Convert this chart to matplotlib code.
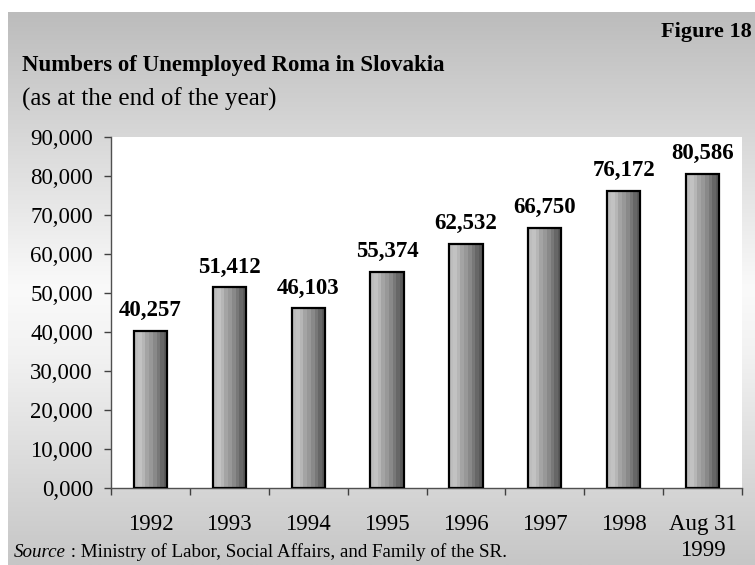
import numpy as np
import matplotlib
matplotlib.use("Agg")
import matplotlib.pyplot as plt
from matplotlib.colors import LinearSegmentedColormap

categories = ["1992", "1993", "1994", "1995", "1996", "1997", "1998", "Aug 31\n1999"]
values = [40257, 51412, 46103, 55374, 62532, 66750, 76172, 80586]
value_labels = ["40,257", "51,412", "46,103", "55,374", "62,532", "66,750", "76,172", "80,586"]
yticks = [0, 10000, 20000, 30000, 40000, 50000, 60000, 70000, 80000, 90000]
ytick_labels = ["0,000", "10,000", "20,000", "30,000", "40,000", "50,000",
                "60,000", "70,000", "80,000", "90,000"]

plt.rcParams['font.family'] = ['Liberation Serif', 'DejaVu Serif']

W, H = 755, 565
fig = plt.figure(figsize=(W / 100, H / 100), dpi=100)
fig.patch.set_facecolor("white")

# background gradient panel
bg = fig.add_axes([8 / W, 0, (W - 8) / W, (H - 12) / H], zorder=-5)
bg.set_axis_off()
bg_cmap = LinearSegmentedColormap.from_list(
    "bg", [(0.0, "#bcbcbc"), (0.5, "#fafafa"), (0.62, "#f2f2f2"), (1.0, "#c6c6c6")])
grad = np.linspace(0, 1, 256).reshape(-1, 1)
bg.imshow(grad, aspect="auto", cmap=bg_cmap, extent=[0, 1, 0, 1], origin="upper")
bg.set_xlim(0, 1)
bg.set_ylim(0, 1)

# main plot
L, R, T, B = 111, 742, 137, 488
ax = fig.add_axes([L / W, (H - B) / H, (R - L) / W, (B - T) / H])
ax.set_facecolor("white")
x = np.arange(len(categories))
bars = ax.bar(x, values, width=0.42, facecolor="none", edgecolor="black",
              linewidth=1.6, zorder=3)

bar_cmap = LinearSegmentedColormap.from_list(
    "bar", ["#bdbdbd", "#c4c4c4", "#a9a9a9", "#999999", "#858585", "#6c6c6c", "#5a5a5a"])
steps = np.linspace(0, 1, 9).reshape(1, -1)
for b in bars:
    x0, y0 = b.get_x(), b.get_y()
    im = ax.imshow(steps, aspect="auto", cmap=bar_cmap, interpolation="nearest",
                   extent=[x0, x0 + b.get_width(), y0, y0 + b.get_height()], zorder=2)
    im.set_clip_path(b)

for xi, v, lab in zip(x, values, value_labels):
    ax.annotate(lab, xy=(xi, v), xytext=(0, 7), textcoords="offset points",
                ha="center", va="bottom", fontsize=16.5, fontweight="bold")

ax.set_xlim(-0.5, len(categories) - 0.5)
ax.set_ylim(0, 90000)
ax.set_yticks(yticks)
ax.set_yticklabels(ytick_labels, fontsize=16.5)
ax.set_xticks(x)
ax.set_xticklabels(categories, fontsize=16.5, linespacing=1.3, va="top")
ax.set_xticks(np.arange(-0.5, len(categories), 1.0), minor=True)
ax.tick_params(axis="x", which="major", length=0, pad=19)
ax.tick_params(axis="x", which="minor", length=5, width=1, color="#404040", direction="out")
ax.tick_params(axis="y", length=5, width=1, color="#404040", direction="out", pad=8)
for s in ["top", "right"]:
    ax.spines[s].set_visible(False)
for s in ["left", "bottom"]:
    ax.spines[s].set_color("#505050")
    ax.spines[s].set_linewidth(1)

# texts
fig.text(22 / W, 1 - 71 / H, "Numbers of Unemployed Roma in Slovakia",
         fontsize=16.5, fontweight="bold", ha="left", va="baseline")
fig.text(22 / W, 1 - 106 / H, "(as at the end of the year)",
         fontsize=18, ha="left", va="baseline")
fig.text(752 / W, 1 - 37 / H, "Figure 18", fontsize=16, fontweight="bold",
         ha="right", va="baseline")

t1 = fig.text(14 / W, 1 - 557 / H, "Source", fontsize=13.7, style="italic",
              ha="left", va="baseline")
ax.annotate(" : Ministry of Labor, Social Affairs, and Family of the SR.",
            xy=(1, 0), xycoords=t1, fontsize=13.7, ha="left", va="bottom",
            annotation_clip=False)

fig.savefig("out.png", dpi=100)
